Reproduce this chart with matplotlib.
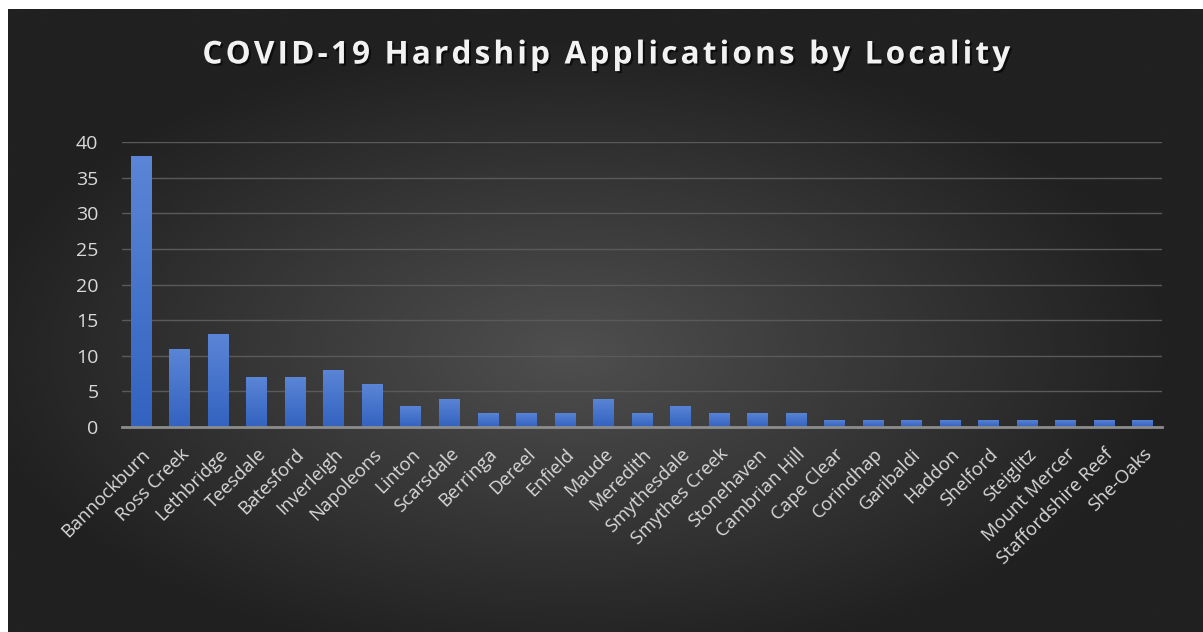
import numpy as np
import matplotlib
matplotlib.use("Agg")
import matplotlib.pyplot as plt
import matplotlib.patheffects as pe

# data
localities = ["Bannockburn", "Ross Creek", "Lethbridge", "Teesdale", "Batesford",
              "Inverleigh", "Napoleons", "Linton", "Scarsdale", "Berringa", "Dereel",
              "Enfield", "Maude", "Meredith", "Smythesdale", "Smythes Creek",
              "Stonehaven", "Cambrian Hill", "Cape Clear", "Corindhap", "Garibaldi",
              "Haddon", "Shelford", "Steiglitz", "Mount Mercer", "Staffordshire Reef",
              "She-Oaks"]
applications = [38, 11, 13, 7, 7, 8, 6, 3, 4, 2, 2, 2, 4, 2, 3, 2, 2, 2,
                1, 1, 1, 1, 1, 1, 1, 1, 1]
yticks = [0, 5, 10, 15, 20, 25, 30, 35, 40]
title = "COVID-19 Hardship Applications by Locality"

W, H = 1203, 632
fig = plt.figure(figsize=(W / 100, H / 100), dpi=100, facecolor="white")

# dark radial background (screenshot has a white strip at top and left)
bg = fig.add_axes([8 / W, 0, 1 - 8 / W, 1 - 9 / H])
yy, xx = np.mgrid[0:300, 0:600]
cx, cy = 0.47 * 600, 0.55 * 300
r = np.sqrt(((xx - cx) / 600) ** 2 + ((yy - cy) / 300) ** 2)
shade = np.clip(0.31 - 0.36 * r, 0.13, 0.31)
bg.imshow(shade, cmap="gray", vmin=0, vmax=1, aspect="auto",
          extent=[0, 1, 0, 1], interpolation="bicubic")
bg.set_axis_off()

ax = fig.add_axes([122 / W, 1 - 427 / H, (1162 - 122) / W, (427 - 142) / H])
ax.set_facecolor("none")

x = np.arange(len(localities))
bars = ax.bar(x, applications, width=0.54, color="#4472c4", zorder=3)

# vertical gradient inside each bar
grad = np.linspace(0, 1, 100).reshape(-1, 1)
cmap = matplotlib.colors.LinearSegmentedColormap.from_list("b", ["#3363c0", "#5b85d6"])
for b in bars:
    im = ax.imshow(grad, cmap=cmap, aspect="auto", origin="lower", zorder=4,
                   extent=[b.get_x(), b.get_x() + b.get_width(), 0, b.get_height()])
    im.set_clip_path(b)

ax.set_xlim(-0.5, len(localities) - 0.5)
ax.set_ylim(0, 40)
ax.set_yticks(yticks)
ax.grid(axis="y", color="#5a5a5a", linewidth=1, zorder=0)
for s in ["top", "right", "left"]:
    ax.spines[s].set_visible(False)
ax.spines["bottom"].set_color("#8c8c8c")
ax.spines["bottom"].set_linewidth(2)
ax.spines["bottom"].set_zorder(5)

ax.set_xticks(x)
ax.set_xticklabels(localities, rotation=45, ha="right", rotation_mode="anchor",
                   fontsize=13.3, color="#d9d9d9", family="Open Sans")
ax.tick_params(axis="x", length=0, pad=13)
ax.tick_params(axis="y", length=0, pad=17, labelsize=14, labelcolor="#d9d9d9")
for lab in ax.get_yticklabels():
    lab.set_family("Open Sans")

# letter-spaced title, hair spaces between characters
fig.text(606 / W, 1 - 55 / H, "\u200a".join(title),
         ha="center", va="center", fontsize=22.7, fontweight="bold",
         color="#f2f2f2", family=["Open Sans", "DejaVu Sans"],
         path_effects=[pe.withSimplePatchShadow(offset=(1.5, -1.5), shadow_rgbFace="black", alpha=0.6)])

fig.savefig("out.png", dpi=100, facecolor="white")
